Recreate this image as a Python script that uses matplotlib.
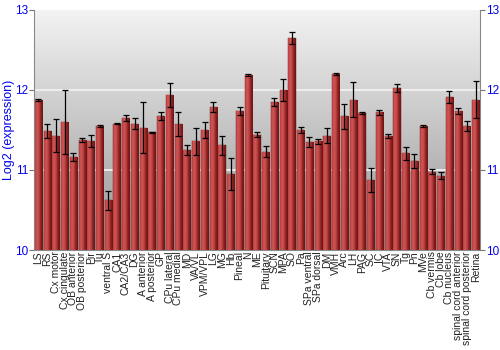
import numpy as np
import matplotlib
matplotlib.use("Agg")
import matplotlib.pyplot as plt
from matplotlib.colors import LinearSegmentedColormap

plt.rcParams['font.family'] = ['Liberation Sans', 'DejaVu Sans']

categories = ["LS", "RS", "Cx motor", "Cx cingulate", "OB anterior", "OB posterior", "Pir", "Tu",
              "ventral S", "CA1", "CA2/CA3", "DG", "A anterior", "A posterior", "GP", "CPu lateral",
              "CPu medial", "MD", "VA/VL", "VPM/VPL", "LG", "MG", "Hb", "Pineal", "N", "ME",
              "Pituitary", "SCN", "MPA", "SO", "Pa", "SPa ventral", "SPa dorsal", "DM", "VMH",
              "Arc", "LH", "PAG", "SC", "IC", "VTA", "SN", "Tg", "Pn", "MVe", "Cb vermis",
              "Cb lobe", "Cb nucleus", "spinal cord anterior", "spinal cord posterior", "Retina"]
values = [11.875, 11.49, 11.43, 11.60, 11.16, 11.37, 11.36, 11.55,
          10.62, 11.58, 11.65, 11.58, 11.53, 11.47, 11.67, 11.94,
          11.575, 11.25, 11.36, 11.50, 11.79, 11.31, 10.95, 11.74, 12.19, 11.44,
          11.23, 11.85, 12.00, 12.65, 11.50, 11.35, 11.36, 11.43, 12.20,
          11.67, 11.88, 11.71, 10.875, 11.72, 11.42, 12.02, 11.21, 11.11, 11.55, 10.98,
          10.93, 11.91, 11.74, 11.55, 11.88]
errors = [0.01, 0.09, 0.21, 0.40, 0.05, 0.025, 0.075, 0.01,
          0.12, 0.01, 0.04, 0.07, 0.32, 0.01, 0.05, 0.15,
          0.15, 0.06, 0.17, 0.10, 0.06, 0.12, 0.20, 0.05, 0.01, 0.03,
          0.07, 0.05, 0.14, 0.075, 0.04, 0.06, 0.03, 0.09, 0.01,
          0.16, 0.22, 0.01, 0.145, 0.035, 0.025, 0.05, 0.08, 0.09, 0.01, 0.03,
          0.04, 0.075, 0.035, 0.06, 0.23]
yticks = [10, 11, 12, 13]

fig = plt.figure(figsize=(5, 3.5), dpi=100)
ax = fig.add_axes([0.068, 0.2857, 0.892, 0.686])
n = len(categories)
x = np.arange(n)

# background gradient: light at top, darker at bottom
grad = np.linspace(0, 1, 256).reshape(-1, 1)
bg = LinearSegmentedColormap.from_list("bg", ["#959595", "#c4c4c4", "#f3f3f3"])
ax.imshow(grad, cmap=bg, aspect="auto", origin="lower",
          extent=[-0.5, n - 0.5, 10, 13], zorder=0)
for yv in [11, 12]:
    ax.axhline(yv, color="#f4f4f4", lw=1.2, zorder=1)

width = 0.82
bars = ax.bar(x, np.array(values) - 10, bottom=10, width=width, color="#b33535",
              edgecolor="#6e1515", linewidth=0.3, zorder=2)
shade = LinearSegmentedColormap.from_list("sh", ["#b63a3a", "#d05858", "#c04444", "#8a2020", "#6a1515"])
hgrad = np.linspace(0, 1, 64).reshape(1, -1)
for b in bars:
    im = ax.imshow(hgrad, cmap=shade, aspect="auto",
                   extent=[b.get_x(), b.get_x() + b.get_width(), 10, b.get_y() + b.get_height()],
                   zorder=2.5)
    im.set_clip_path(b)
ax.set_xlim(-0.5, n - 0.5)
ax.set_ylim(10, 13)

ax.errorbar(x, values, yerr=errors, fmt="none", ecolor="black", elinewidth=0.9,
            capsize=2, capthick=0.9, zorder=3)

ax.set_xticks(x)
ax.set_xticklabels(categories, rotation=90, fontsize=7.5, color="#222222")
ax.tick_params(axis="x", length=0, pad=1)
ax.set_yticks(yticks)
ax.set_yticklabels([str(t) for t in yticks])
ax.tick_params(axis="y", colors="#777777", labelcolor="#0000ee", labelsize=8.5,
               length=3.5, width=0.8, pad=0.5, direction="out",
               left=True, right=True, labelleft=True, labelright=True)
fig.text(9.5 / 500, 1 - 130 / 350, "Log2 (expression)", color="#0000ee", fontsize=9,
         rotation=90, ha="center", va="center")
for s in ax.spines.values():
    s.set_color("#888888")
    s.set_linewidth(0.8)
ax.spines["top"].set_visible(False)

fig.savefig("out.png", dpi=100)
